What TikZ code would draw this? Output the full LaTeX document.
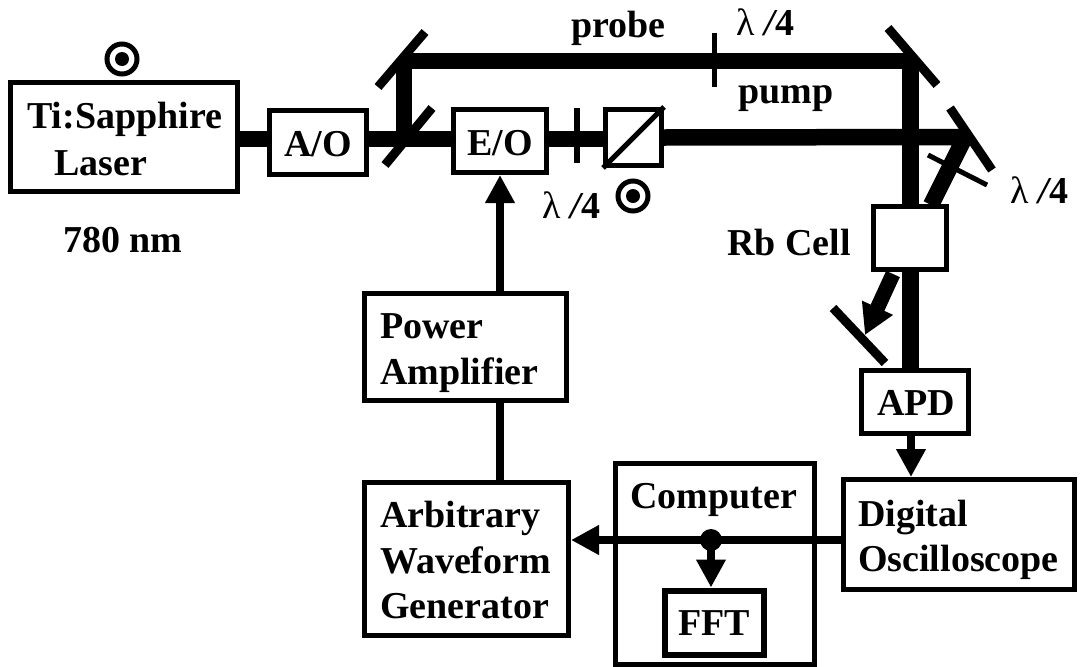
\documentclass[tikz,border=0pt]{standalone}
\usepackage{fontspec}
\setmainfont{Liberation Serif}
\usepackage{tikz}
\usetikzlibrary{arrows.meta, positioning}

\begin{document}
\begin{tikzpicture}[
  x=1pt, y=-1pt,
  box/.style={rectangle, draw, line width=5pt, inner sep=0pt},
  lab/.style={font=\fontsize{38}{46}\selectfont\bfseries, inner sep=0pt, anchor=base west},
  beam/.style={line width=16.5pt, line join=bevel},
  wire/.style={line width=8pt},
  arrow/.style={line width=8pt, -{Triangle[length=28pt,width=28pt]}},
  mirror/.style={line width=9pt},
  plate/.style={line width=5pt},
  pol/.style={circle, draw, line width=5pt, minimum size=30pt, inner sep=0pt}
]
\useasboundingbox (0,0) rectangle (1080,667);
% boxes
\node[box, minimum width=227pt, minimum height=109pt] (laser) at (124,137) {};
\node[box, minimum width=97pt, minimum height=64pt] (ao) at (318,142.5) {};
\node[box, minimum width=93pt, minimum height=63pt] (eo) at (500,141) {};
\node[box, minimum width=56pt, minimum height=56pt] (pbs) at (633.5,137.5) {};
\node[box, minimum width=73pt, minimum height=63pt] (rb) at (910,238) {};
\node[box, minimum width=107pt, minimum height=63pt] (apd) at (915,402) {};
\node[box, minimum width=202pt, minimum height=107pt] (amp) at (465.5,347) {};
\node[box, minimum width=204pt, minimum height=153pt] (awg) at (466.5,559) {};
\node[box, minimum width=199pt, minimum height=201pt] (comp) at (715,564) {};
\node[box, line width=6pt, minimum width=99pt, minimum height=64pt] (fft) at (714,622.5) {};
\node[box, minimum width=231pt, minimum height=110pt] (dso) at (959,534.5) {};
\draw[line width=5pt] (pbs.south west) -- (pbs.north east);
% coordinates on the beams
\coordinate (bs) at (404,139);
\coordinate (m1) at (404,61);
\coordinate (m2) at (910.5,61);
\coordinate (m3) at (965,137);
\coordinate (rbin) at (931,205);
\coordinate (rbout) at (893,274);
\coordinate (m4) at (865,335);
\coordinate (junction) at (711,540);
\coordinate (apdout) at (911,436);
% beams
\draw[beam] (laser.east |- bs) -- (ao.west |- bs);
\draw[beam] (ao.east |- bs) -- (eo.west |- bs);
\draw[beam] (eo.east |- bs) -- (pbs.west |- bs);
\draw[beam] (pbs.east) -- (m3) -- (rbin);
\draw[beam] (bs) -- (m1) -- (m2) -- (m2 |- rb.north);
\draw[beam] (m2 |- rb.south) -- (m2 |- apd.north);
\draw[line width=15pt, -{Triangle[length=30pt,width=32pt]}] (rbout) -- (m4);
% wires and arrows
\draw[arrow] (eo.south |- amp.north) -- (eo.south);
\draw[wire] (eo.south |- amp.south) -- (eo.south |- awg.north);
\draw[arrow] (apdout) -- (apdout |- dso.north);
\draw[arrow] (dso.west |- junction) -- (awg.east |- junction);
\fill (junction) circle (11pt);
\draw[arrow] (junction) -- (junction |- fft.north);
% mirrors
\draw[mirror] (425,32) -- (378,87);
\draw[mirror] (432,108) -- (385,165);
\draw[mirror] (888,28) -- (937,85);
\draw[mirror] (950,108) -- (992,170);
\draw[mirror] (833,308) -- (885,363);
% wave plates
\draw[plate] (714,33) -- (714,87);
\draw[plate, line width=6pt] (577,108) -- (577,163);
\draw[plate] (928,155) -- (987,185);
% polarisation marks
\node[pol] (pol1) at (122,59) {};
\fill (pol1.center) circle (7pt);
\node[pol] (pol2) at (633,196) {};
\fill (pol2.center) circle (7pt);
% labels
\node[lab] (lasertext) at (27,128) {Ti:Sapphire};
\node[lab] (lasertext2) at (54,175) {Laser};
\node[lab] (lab780) at (63,252) {780 nm};
\node[lab] (aotext) at (284,156) {A/O};
\node[lab] (eotext) at (467,155) {E/O};
\node[lab] (apdtext) at (877,415) {APD};
\node[lab] (amptext) at (380,338) {Power};
\node[lab] (amptext2) at (380,384) {Amplifier};
\node[lab] (awgtext) at (380,527) {Arbitrary};
\node[lab] (awgtext2) at (380,573) {Waveform};
\node[lab] (awgtext3) at (380,618) {Generator};
\node[lab] (comptext) at (630,508) {Computer};
\node[lab] (ffttext) at (678,635) {FFT};
\node[lab] (dsotext) at (858,526) {Digital};
\node[lab] (dsotext2) at (858,571) {Oscilloscope};
\node[lab] (rbtext) at (727,255) {Rb Cell};
\node[lab] (labprobe) at (571,37) {probe};
\node[lab] (labpump) at (738,103) {pump};
\node[lab] (qw1) at (736,35) {{\mdseries λ}\hspace{10pt}{\itshape/}4};
\node[lab] (qw2) at (542,218) {{\mdseries λ}\hspace{10pt}{\itshape/}4};
\node[lab] (qw3) at (1010,203) {{\mdseries λ}\hspace{10pt}{\itshape/}4};
\end{tikzpicture}
\end{document}
